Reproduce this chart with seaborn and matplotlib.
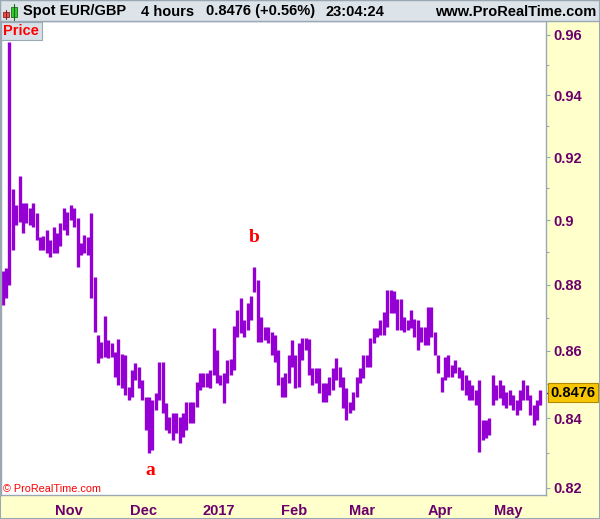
import numpy as np
import pandas as pd
import matplotlib.pyplot as plt
import seaborn as sns
from matplotlib.patches import Rectangle
from matplotlib.transforms import blended_transform_factory
from matplotlib.ticker import NullFormatter

# trading day index (0 = 3 Oct 2016), daily high / low of the 4h bars
day = list(range(1, 160))
high = [0.8841, 0.8853, 0.9576, 0.9098, 0.9048, 0.9139, 0.9054, 0.9054, 0.9038, 0.9054,
        0.9023, 0.8946, 0.8952, 0.8970, 0.8939, 0.8980, 0.8961, 0.8992, 0.9038, 0.9026,
        0.9048, 0.9038, 0.9007, 0.8930, 0.8955, 0.8949, 0.9023, 0.8825, 0.8649, 0.8628,
        0.8706, 0.8634, 0.8625, 0.8598, 0.8637, 0.8592, 0.8589, 0.8493, 0.8544, 0.8565,
        0.8553, 0.8514, 0.8463, 0.8463, 0.8454, 0.8475, 0.8568, 0.8568, 0.8445, 0.8405,
        0.8416, 0.8416, 0.8405, 0.8416, 0.8448, 0.8448, 0.8448, 0.8508, 0.8535, 0.8535,
        0.8535, 0.8544, 0.8670, 0.8604, 0.8529, 0.8535, 0.8574, 0.8577, 0.8676, 0.8724,
        0.8760, 0.8694, 0.8745, 0.8766, 0.8856, 0.8816, 0.8703, 0.8673, 0.8673, 0.8658,
        0.8649, 0.8604, 0.8523, 0.8535, 0.8589, 0.8634, 0.8589, 0.8625, 0.8640, 0.8640,
        0.8637, 0.8550, 0.8550, 0.8550, 0.8505, 0.8505, 0.8523, 0.8550, 0.8580, 0.8553,
        0.8523, 0.8490, 0.8448, 0.8478, 0.8523, 0.8550, 0.8589, 0.8589, 0.8640, 0.8670,
        0.8670, 0.8694, 0.8718, 0.8785, 0.8785, 0.8782, 0.8757, 0.8757, 0.8703, 0.8694,
        0.8724, 0.8697, 0.8694, 0.8673, 0.8673, 0.8733, 0.8733, 0.8658, 0.8589, 0.8523,
        0.8583, 0.8589, 0.8559, 0.8574, 0.8553, 0.8544, 0.8529, 0.8514, 0.8499, 0.8484,
        0.8514, 0.8396, 0.8396, 0.8402, 0.8529, 0.8499, 0.8514, 0.8499, 0.8478, 0.8484,
        0.8469, 0.8454, 0.8484, 0.8514, 0.8499, 0.8469, 0.8440, 0.8454, 0.8484]
low = [0.8739, 0.8760, 0.8800, 0.8908, 0.8986, 0.8995, 0.8961, 0.8992, 0.8986, 0.8980,
       0.8939, 0.8908, 0.8908, 0.8899, 0.8884, 0.8899, 0.8899, 0.8918, 0.8970, 0.8955,
       0.9001, 0.8980, 0.8856, 0.8893, 0.8899, 0.8893, 0.8760, 0.8658, 0.8565, 0.8580,
       0.8583, 0.8580, 0.8583, 0.8523, 0.8499, 0.8490, 0.8469, 0.8454, 0.8463, 0.8514,
       0.8490, 0.8454, 0.8367, 0.8300, 0.8309, 0.8425, 0.8454, 0.8416, 0.8367, 0.8358,
       0.8338, 0.8358, 0.8329, 0.8347, 0.8367, 0.8387, 0.8387, 0.8434, 0.8484, 0.8493,
       0.8493, 0.8490, 0.8529, 0.8505, 0.8499, 0.8445, 0.8505, 0.8529, 0.8544, 0.8643,
       0.8655, 0.8643, 0.8664, 0.8694, 0.8779, 0.8628, 0.8628, 0.8634, 0.8625, 0.8589,
       0.8568, 0.8499, 0.8463, 0.8463, 0.8505, 0.8553, 0.8490, 0.8493, 0.8574, 0.8604,
       0.8529, 0.8499, 0.8505, 0.8475, 0.8448, 0.8448, 0.8469, 0.8484, 0.8514, 0.8493,
       0.8431, 0.8396, 0.8416, 0.8425, 0.8463, 0.8505, 0.8520, 0.8553, 0.8553, 0.8625,
       0.8643, 0.8649, 0.8649, 0.8673, 0.8715, 0.8715, 0.8664, 0.8664, 0.8658, 0.8664,
       0.8670, 0.8643, 0.8604, 0.8628, 0.8619, 0.8619, 0.8643, 0.8589, 0.8535, 0.8478,
       0.8514, 0.8523, 0.8523, 0.8535, 0.8520, 0.8484, 0.8469, 0.8454, 0.8454, 0.8440,
       0.8303, 0.8338, 0.8344, 0.8353, 0.8440, 0.8454, 0.8460, 0.8440, 0.8431, 0.8440,
       0.8425, 0.8411, 0.8425, 0.8454, 0.8454, 0.8411, 0.8382, 0.8396, 0.8440]

month_pos = [21, 43, 65, 87, 107, 130, 150]
month_lab = ['Nov', 'Dec', '2017', 'Feb', 'Mar', 'Apr', 'May']
price_ticks = [0.96, 0.94, 0.92, 0.90, 0.88, 0.86, 0.84, 0.82]
price_lab = ['0.96', '0.94', '0.92', '0.9', '0.88', '0.86', '0.84', '0.82']
minor_ticks = [0.95, 0.93, 0.91, 0.89, 0.87, 0.85, 0.83]
last_price = 0.8476
marks = [('a', 45.0, 0.8248), ('b', 75.4, 0.8947)]

sns.set_style('white')
plt.rcParams['font.family'] = ['Liberation Sans', 'DejaVu Sans']

purple = '#9400d3'
axis_txt = '#6b006b'
grey = '#9aa8b4'

df = pd.DataFrame({'day': np.repeat(np.array(day) + 0.5, 2),
                   'price': np.column_stack([low, high]).ravel()})

W, H = 600, 519
fig = plt.figure(figsize=(W / 100, H / 100), dpi=100, facecolor='#ffffcc')
ax = fig.add_axes([1 / W, 24 / H, 544.5 / W, 474 / H])
ax.set_facecolor('white')
ax.set_yscale('log')

sns.lineplot(data=df, x='day', y='price', units='day', estimator=None,
             color=purple, lw=2.4, solid_capstyle='butt', ax=ax)

ax.set_xlim(1.02, 161.0)
ax.set_ylim(0.81793, 0.96459)
ax.set_xlabel('')
ax.set_ylabel('')

ax.yaxis.tick_right()
ax.set_yticks(price_ticks, labels=price_lab)
ax.set_yticks(minor_ticks, minor=True)
ax.yaxis.set_minor_formatter(NullFormatter())
ax.tick_params(axis='y', which='major', direction='out', length=3.2, width=0.8,
               color=grey, labelcolor=axis_txt, labelsize=10.5, pad=2.5)
ax.tick_params(axis='y', which='minor', direction='out', length=2, width=0.8, color=grey)
ax.set_xticks(month_pos, labels=month_lab)
ax.tick_params(axis='x', direction='out', length=3, width=0.8, color=grey,
               labelcolor=axis_txt, labelsize=10.5, pad=3.5)
for t in ax.get_xticklabels() + ax.get_yticklabels():
    t.set_fontweight('bold')
for s in ax.spines.values():
    s.set_color(grey)
    s.set_linewidth(1)

for txt, x, y in marks:
    ax.text(x, y, txt, family='Liberation Serif', weight='bold', color='red',
            fontsize=14, ha='center', va='center')

# last price marker on the right scale
tr = blended_transform_factory(ax.transAxes, ax.transData)
ax.plot([1.0, 1.0075], [last_price, last_price], transform=tr, color=axis_txt,
        lw=1, clip_on=False)
ax.text(1.0095, last_price, '0.8476', transform=tr, ha='left', va='center',
        fontsize=10.5, weight='bold', color='black',
        bbox=dict(boxstyle='square,pad=0.17', fc='#f7c600', ec='#b08a00', lw=0.8))

# header bar
def fx(x):
    return x / W


def fy(y):
    return 1 - y / H


fig.add_artist(Rectangle((0, fy(21)), 1, 21 / H, transform=fig.transFigure,
                         fc='#dce3e9', ec=grey, lw=1))
fig.add_artist(Rectangle((fx(3), fy(17.3)), fx(6.2), 5.6 / H, transform=fig.transFigure,
                         fc='#e85050', ec='#8a2020', lw=0.6))
fig.add_artist(Rectangle((fx(10.7), fy(16.7)), fx(6.3), 9.4 / H, transform=fig.transFigure,
                         fc='#33cc33', ec='#1a6a1a', lw=0.6))
fig.add_artist(plt.Line2D([fx(13.8), fx(13.8)], [fy(20), fy(3.5)], transform=fig.transFigure,
                          color='#1a6a1a', lw=0.8))
fig.add_artist(plt.Line2D([fx(6.1), fx(6.1)], [fy(19), fy(9.5)], transform=fig.transFigure,
                          color='#8a2020', lw=0.8))
head = [(23, 'Spot EUR/GBP'), (141, '4 hours'), (206.5, '0.8476 (+0.56%)'), (326, '23:04:24')]
for x, s in head:
    fig.text(fx(x), fy(11.5), s, fontsize=10.5, weight='bold', color='black', va='center')
fig.text(fx(596.5), fy(11.5), 'www.ProRealTime.com', fontsize=10.5, weight='bold',
         color='black', va='center', ha='right')

# "Price" tag
fig.add_artist(Rectangle((fx(1), fy(39.5)), fx(40.5), 17.5 / H, transform=fig.transFigure,
                         fc='#d8e0e7', ec=grey, lw=0.8))
fig.text(fx(3.3), fy(31), 'Price', fontsize=10.5, weight='bold', color='red', va='center')

fig.text(fx(3), fy(489.5), '\u00a9 ProRealTime.com', fontsize=7.8, color='red', va='center')

fig.add_artist(Rectangle((0, 0), 1, 1, transform=fig.transFigure, fill=False, ec=grey, lw=1.5))

fig.savefig('out.png', dpi=100, facecolor=fig.get_facecolor())
